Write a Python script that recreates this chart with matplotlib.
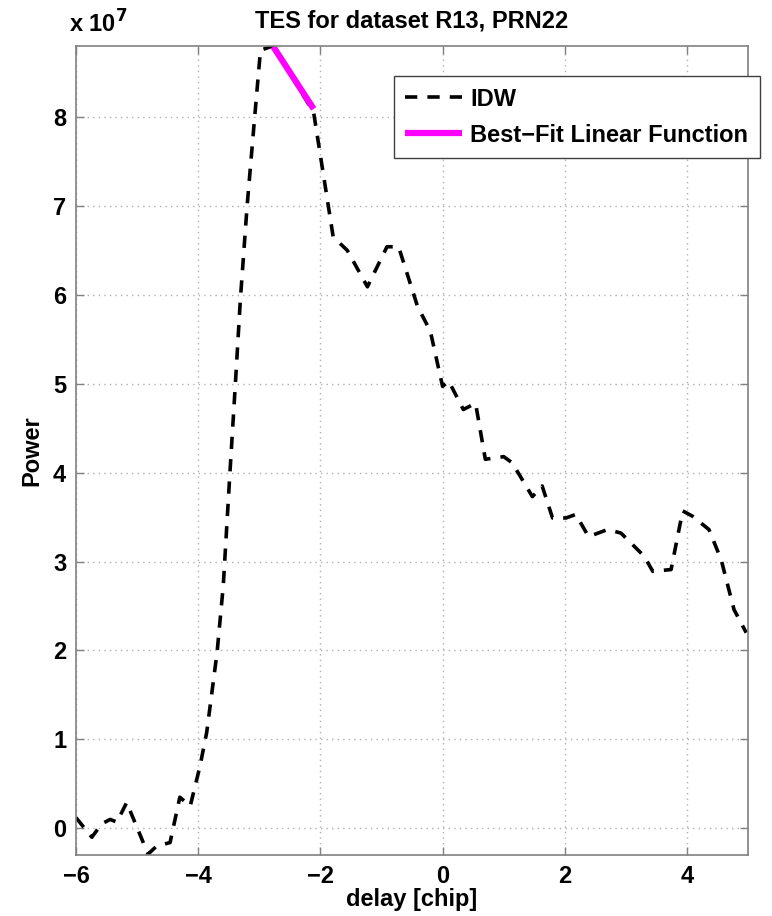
import numpy as np
from matplotlib import pyplot as plt
from matplotlib.ticker import FuncFormatter

# delay [chip] and power (units of 1e7)
delay = [-6.0, -5.74, -5.58, -5.44, -5.33, -5.17, -4.82, -4.68, -4.46, -4.30,
         -4.13, -3.97, -3.86, -3.69, -3.59, -3.48, -3.39, -3.31, -3.20, -3.07,
         -2.98, -2.77, -2.11, -1.79, -1.56, -1.23, -0.91, -0.72, -0.41, -0.20,
         0.0, 0.10, 0.34, 0.54, 0.70, 1.00, 1.14, 1.47, 1.63, 1.80,
         2.02, 2.18, 2.39, 2.70, 2.92, 3.30, 3.44, 3.74, 3.93, 4.09,
         4.36, 4.56, 4.77, 4.97]
power_e7 = [0.12, -0.10, 0.05, 0.10, 0.07, 0.29, -0.29, -0.20, -0.16, 0.35,
            0.25, 0.70, 1.08, 1.98, 2.72, 4.00, 5.01, 5.94, 6.99, 8.04,
            8.75, 8.80, 8.05, 6.65, 6.50, 6.09, 6.54, 6.54, 5.87, 5.59,
            4.97, 5.03, 4.71, 4.78, 4.15, 4.18, 4.11, 3.73, 3.85, 3.49,
            3.49, 3.53, 3.28, 3.36, 3.32, 3.06, 2.89, 2.91, 3.57, 3.51,
            3.36, 3.02, 2.46, 2.20]

fit_delay = [-2.77, -2.11]
fit_power_e7 = [8.79, 8.09]

x_ticks = [-6, -4, -2, 0, 2, 4]
y_ticks = [0, 1, 2, 3, 4, 5, 6, 7, 8]

plt.rcParams['font.family'] = ['Liberation Sans', 'DejaVu Sans']
plt.rcParams['font.weight'] = 'bold'

fig = plt.figure(figsize=(7.72, 9.16), dpi=100)
ax = fig.add_axes([0.0984, 0.0666, 0.8706, 0.8834])

ax.plot(delay, np.array(power_e7) * 1e7, color='black', lw=2.6,
        dashes=(3.4, 2.8), label='IDW')
ax.plot(fit_delay, np.array(fit_power_e7) * 1e7, color='#ff00ff', lw=4.5,
        solid_capstyle='butt', label='Best\u2212Fit Linear Function')

ax.set_xlim(-6, 5)
ax.set_ylim(-0.3e7, 8.8e7)
ax.set_xticks(x_ticks)
ax.set_yticks([v * 1e7 for v in y_ticks])
ax.xaxis.set_major_formatter(FuncFormatter(lambda v, p: f'{v:g}'.replace('-', '\u2212')))
ax.yaxis.set_major_formatter(FuncFormatter(lambda v, p: f'{v / 1e7:g}'))

ax.grid(True, color='#b0b0b0', linestyle=(0, (1, 3)), lw=1.0)
ax.tick_params(direction='in', length=6, width=1.0, top=True, right=True,
               labelsize=17, color='#808080', pad=7)
for sp in ax.spines.values():
    sp.set_color('#808080')
    sp.set_linewidth(1.2)

ax.set_title('TES for dataset R13, PRN22', fontsize=17, fontweight='bold', pad=13)
ax.set_xlabel('delay [chip]', fontsize=17, fontweight='bold', labelpad=0)
ax.set_ylabel('Power', fontsize=17, fontweight='bold', labelpad=7)
ax.text(-0.01, 1.01, r'x 10$^{\mathbf{7}}$', transform=ax.transAxes,
        fontsize=17, fontweight='bold', ha='left', va='bottom')

leg = ax.legend(loc='upper right', bbox_to_anchor=(1.018, 0.963), fontsize=17,
                handlelength=2.4, handletextpad=0.35, borderpad=0.5,
                labelspacing=0.55, fancybox=False, framealpha=1,
                edgecolor='#404040', borderaxespad=0)
leg.get_frame().set_linewidth(1.0)

fig.savefig('out.png', dpi=100)
